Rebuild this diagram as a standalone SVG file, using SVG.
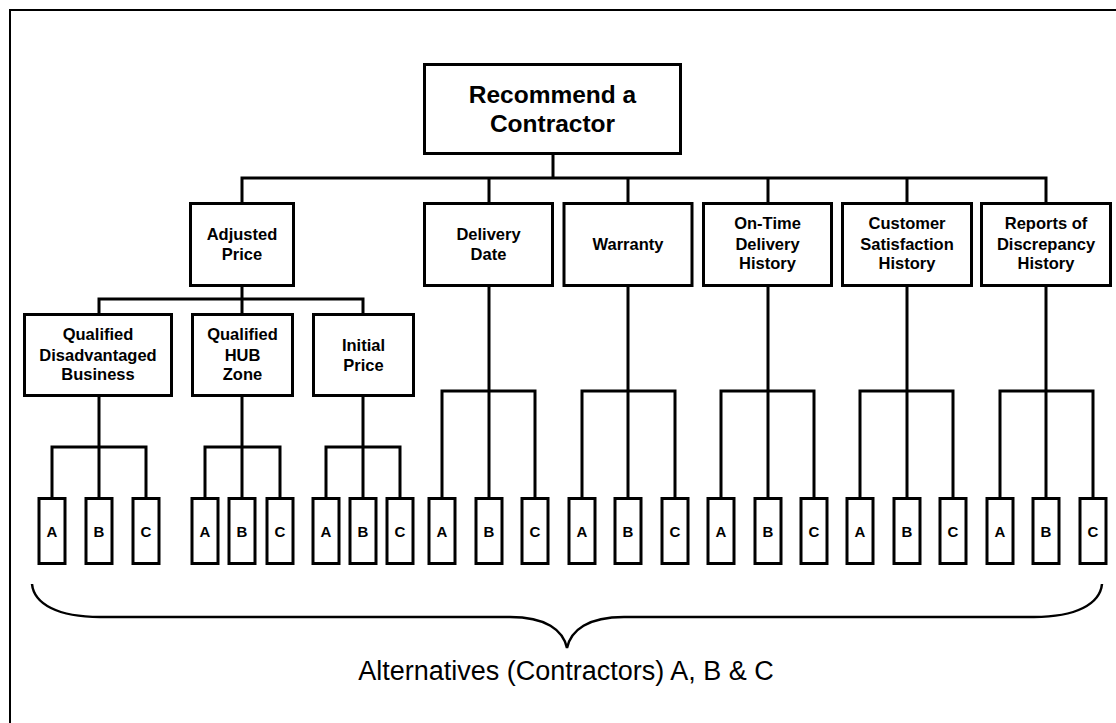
<svg xmlns="http://www.w3.org/2000/svg" width="1116" height="723" viewBox="0 0 1116 723">
<style>
.box{fill:#fff;stroke:#000;stroke-width:3}
.leaf{fill:#fff;stroke:#000;stroke-width:3}
.ln{fill:none;stroke:#000;stroke-width:3;stroke-linecap:square}
.t{font-family:"Liberation Sans",Arial,sans-serif;font-weight:bold;font-size:16.5px;text-anchor:middle;fill:#000}
.tr{font-family:"Liberation Sans",Arial,sans-serif;font-weight:bold;font-size:24.5px;text-anchor:middle;fill:#000}
.tl{font-family:"Liberation Sans",Arial,sans-serif;font-weight:bold;font-size:15px;text-anchor:middle;fill:#000}
.tb{font-family:"Liberation Sans",Arial,sans-serif;font-size:27px;text-anchor:middle;fill:#000}
</style>
<rect x="0" y="0" width="1116" height="723" fill="#fff"/>
<rect x="10" y="10" width="1200" height="800" fill="none" stroke="#000" stroke-width="2"/>
<g id="connectors">
<path class="ln" d="M553 155V178M242 178H1046M242 178V202M489 178V202M628 178V202M768 178V202M907 178V202M1046 178V202"/>
<path class="ln" d="M242 287V299M99 299H363M99 299V313M242 299V313M363 299V313"/>
<path class="ln" d="M99 397V447M52 447H146M52 447V497M99 447V497M146 447V497"/>
<path class="ln" d="M242 397V447M205 447H280M205 447V497M242 447V497M280 447V497"/>
<path class="ln" d="M363 397V447M326 447H400M326 447V497M363 447V497M400 447V497"/>
<path class="ln" d="M489 287V391M442 391H535M442 391V497M489 391V497M535 391V497"/>
<path class="ln" d="M628 287V391M582 391H675M582 391V497M628 391V497M675 391V497"/>
<path class="ln" d="M768 287V391M721 391H814M721 391V497M768 391V497M814 391V497"/>
<path class="ln" d="M907 287V391M860 391H953M860 391V497M907 391V497M953 391V497"/>
<path class="ln" d="M1046 287V391M1000 391H1093M1000 391V497M1046 391V497M1093 391V497"/>
</g>
<g id="root"><rect class="box" x="424.5" y="64.5" width="256" height="89"/><text class="tr" x="552.5" y="103">Recommend a</text><text class="tr" x="552.5" y="132">Contractor</text></g>
<g id="adjusted-price"><rect class="box" x="190.5" y="203.5" width="103" height="82"/><text class="t" x="242" y="239.5">Adjusted</text><text class="t" x="242" y="259.5">Price</text></g>
<g id="delivery-date"><rect class="box" x="424.5" y="203.5" width="128" height="82"/><text class="t" x="488.5" y="239.5">Delivery</text><text class="t" x="488.5" y="259.5">Date</text></g>
<g id="warranty"><rect class="box" x="564" y="203.5" width="128" height="82"/><text class="t" x="628" y="250">Warranty</text></g>
<g id="on-time"><rect class="box" x="703.5" y="203.5" width="128" height="82"/><text class="t" x="767.5" y="229">On-Time</text><text class="t" x="767.5" y="249.5">Delivery</text><text class="t" x="767.5" y="269">History</text></g>
<g id="customer"><rect class="box" x="842.5" y="203.5" width="129" height="82"/><text class="t" x="907" y="229">Customer</text><text class="t" x="907" y="249.5">Satisfaction</text><text class="t" x="907" y="269">History</text></g>
<g id="reports"><rect class="box" x="981.5" y="203.5" width="129" height="82"/><text class="t" x="1046" y="229">Reports of</text><text class="t" x="1046" y="249.5">Discrepancy</text><text class="t" x="1046" y="269">History</text></g>
<g id="qdb"><rect class="box" x="24.5" y="314.5" width="147" height="81"/><text class="t" x="98" y="340">Qualified</text><text class="t" x="98" y="360.5">Disadvantaged</text><text class="t" x="98" y="380">Business</text></g>
<g id="qhz"><rect class="box" x="192.5" y="314.5" width="100" height="81"/><text class="t" x="242.5" y="340">Qualified</text><text class="t" x="242.5" y="360.5">HUB</text><text class="t" x="242.5" y="380">Zone</text></g>
<g id="initial-price"><rect class="box" x="313.5" y="314.5" width="100" height="81"/><text class="t" x="363.5" y="350.5">Initial</text><text class="t" x="363.5" y="370.5">Price</text></g>
<g id="leaves">
<g id="qdb-a"><rect class="leaf" x="39" y="498.5" width="26" height="65"/><text class="tl" x="52" y="536.5">A</text></g>
<g id="qdb-b"><rect class="leaf" x="86" y="498.5" width="26" height="65"/><text class="tl" x="99" y="536.5">B</text></g>
<g id="qdb-c"><rect class="leaf" x="133" y="498.5" width="26" height="65"/><text class="tl" x="146" y="536.5">C</text></g>
<g id="qhz-a"><rect class="leaf" x="192" y="498.5" width="26" height="65"/><text class="tl" x="205" y="536.5">A</text></g>
<g id="qhz-b"><rect class="leaf" x="229" y="498.5" width="26" height="65"/><text class="tl" x="242" y="536.5">B</text></g>
<g id="qhz-c"><rect class="leaf" x="267" y="498.5" width="26" height="65"/><text class="tl" x="280" y="536.5">C</text></g>
<g id="ip-a"><rect class="leaf" x="313" y="498.5" width="26" height="65"/><text class="tl" x="326" y="536.5">A</text></g>
<g id="ip-b"><rect class="leaf" x="350" y="498.5" width="26" height="65"/><text class="tl" x="363" y="536.5">B</text></g>
<g id="ip-c"><rect class="leaf" x="387" y="498.5" width="26" height="65"/><text class="tl" x="400" y="536.5">C</text></g>
<g id="dd-a"><rect class="leaf" x="429" y="498.5" width="26" height="65"/><text class="tl" x="442" y="536.5">A</text></g>
<g id="dd-b"><rect class="leaf" x="476" y="498.5" width="26" height="65"/><text class="tl" x="489" y="536.5">B</text></g>
<g id="dd-c"><rect class="leaf" x="522" y="498.5" width="26" height="65"/><text class="tl" x="535" y="536.5">C</text></g>
<g id="w-a"><rect class="leaf" x="569" y="498.5" width="26" height="65"/><text class="tl" x="582" y="536.5">A</text></g>
<g id="w-b"><rect class="leaf" x="615" y="498.5" width="26" height="65"/><text class="tl" x="628" y="536.5">B</text></g>
<g id="w-c"><rect class="leaf" x="662" y="498.5" width="26" height="65"/><text class="tl" x="675" y="536.5">C</text></g>
<g id="ot-a"><rect class="leaf" x="708" y="498.5" width="26" height="65"/><text class="tl" x="721" y="536.5">A</text></g>
<g id="ot-b"><rect class="leaf" x="755" y="498.5" width="26" height="65"/><text class="tl" x="768" y="536.5">B</text></g>
<g id="ot-c"><rect class="leaf" x="801" y="498.5" width="26" height="65"/><text class="tl" x="814" y="536.5">C</text></g>
<g id="cs-a"><rect class="leaf" x="847" y="498.5" width="26" height="65"/><text class="tl" x="860" y="536.5">A</text></g>
<g id="cs-b"><rect class="leaf" x="894" y="498.5" width="26" height="65"/><text class="tl" x="907" y="536.5">B</text></g>
<g id="cs-c"><rect class="leaf" x="940" y="498.5" width="26" height="65"/><text class="tl" x="953" y="536.5">C</text></g>
<g id="rd-a"><rect class="leaf" x="987" y="498.5" width="26" height="65"/><text class="tl" x="1000" y="536.5">A</text></g>
<g id="rd-b"><rect class="leaf" x="1033" y="498.5" width="26" height="65"/><text class="tl" x="1046" y="536.5">B</text></g>
<g id="rd-c"><rect class="leaf" x="1080" y="498.5" width="26" height="65"/><text class="tl" x="1093" y="536.5">C</text></g>
</g>
<g id="brace">
<path d="M32 584C34 604 58 617 100 617L510 617C546 617 563 630 567 648C571 630 588 617 624 617L1034 617C1076 617 1100 604 1102 584" fill="none" stroke="#000" stroke-width="2.5"/>
<text class="tb" x="566" y="680">Alternatives (Contractors) A, B &amp; C</text>
</g>
</svg>
